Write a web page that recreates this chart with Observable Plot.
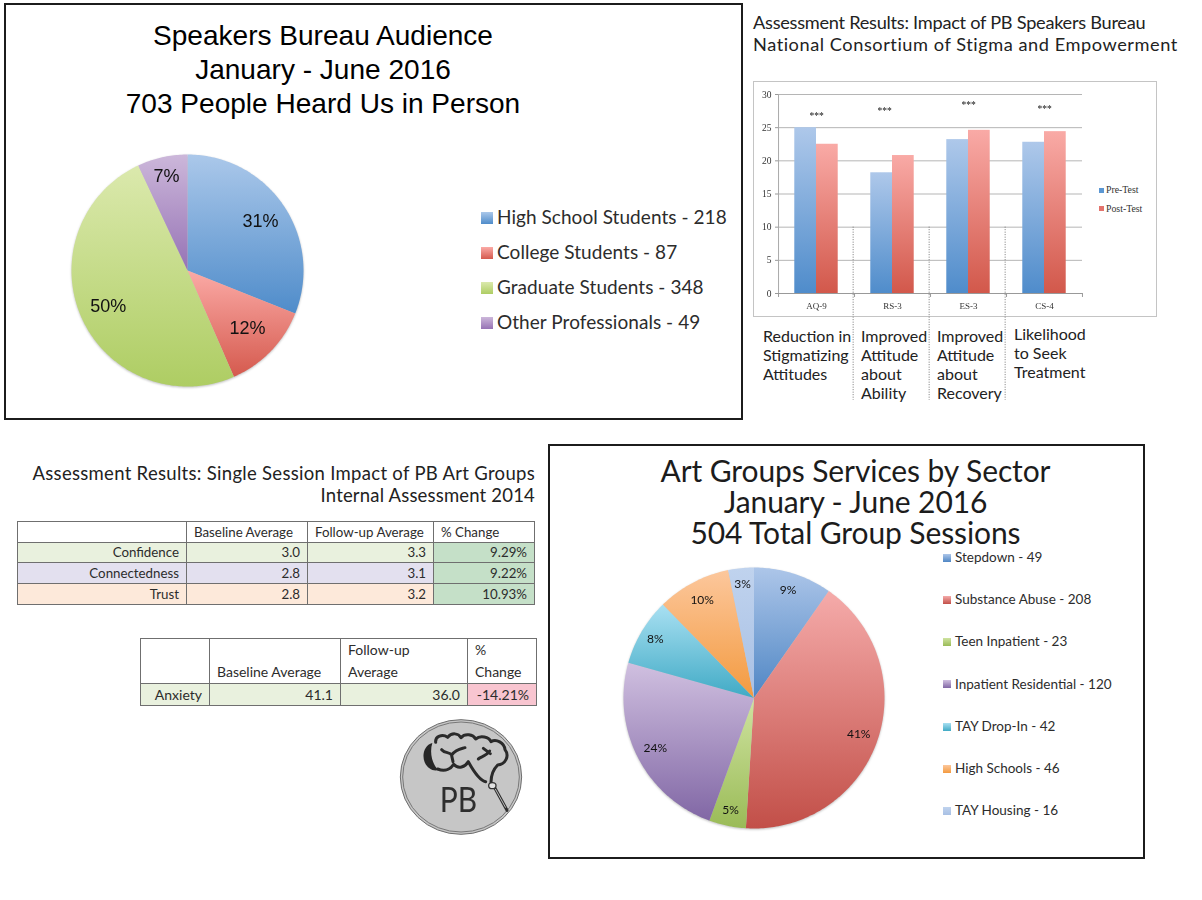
<!DOCTYPE html>
<html><head><meta charset="utf-8">
<script src="https://cdn.jsdelivr.net/npm/d3@7"></script>
<script src="https://cdn.jsdelivr.net/npm/@observablehq/plot@0.6"></script>
<style>
html,body{margin:0;padding:0;background:#fff}
#page{position:relative;width:1202px;height:900px;overflow:hidden;background:#fff}
.abs{position:absolute;white-space:pre}
.box{position:absolute;box-sizing:border-box;border:2px solid #1c1c1c}
.plot{position:absolute}
.plot svg{overflow:visible}
.sw{position:absolute}
table{position:absolute;border-collapse:collapse;table-layout:fixed;font-family:Lato,sans-serif;color:#2c2c2c}
td{border:1px solid #6f6f6f;padding:0 7px;box-sizing:border-box;white-space:nowrap}
</style></head><body><div id="page"></div>
<script>
// ---------- data ----------
const audienceNames = ["High School Students","College Students","Graduate Students","Other Professionals"];
const audienceCounts = [218,87,348,49];
const audienceLabels = ["31%","12%","50%","7%"];
const sectorNames = ["Stepdown","Substance Abuse","Teen Inpatient","Inpatient Residential","TAY Drop-In","High Schools","TAY Housing"];
const sectorCounts = [49,208,23,120,42,46,16];
const sectorLabels = ["9%","41%","5%","24%","8%","10%","3%"];
const measures = ["AQ-9","RS-3","ES-3","CS-4"];
const preTest = [25,18.2,23.2,22.8];
const postTest = [22.5,20.8,24.6,24.4];
const stars = [27,27.7,28.6,28];
const measureNotes = ["Reduction in\nStigmatizing\nAttitudes","Improved\nAttitude\nabout\nAbility","Improved\nAttitude\nabout\nRecovery","Likelihood\nto Seek\nTreatment"];
const tableHead = ["","Baseline Average","Follow-up Average","% Change"];
const tableRows = [["Confidence","3.0","3.3","9.29%"],["Connectedness","2.8","3.1","9.22%"],["Trust","2.8","3.2","10.93%"]];
const anxietyHead = ["","Baseline Average","Follow-up\nAverage","%\nChange"];
const anxietyRow = ["Anxiety","41.1","36.0","-14.21%"];

// ---------- styling ----------
const audienceGrad = [["#abc8ea","#4f8cca"],["#fbaaa6","#d55a4e"],["#dbe9ad","#aecd63"],["#ccb7da","#9673b5"]];
const sectorGrad = [["#adc6e9","#4f86c4"],["#f5abaa","#c24f48"],["#cfe3a0","#9abb57"],["#d0c0e0","#8167a5"],["#a9e0f2","#40aac5"],["#fcc79c","#f39a3f"],["#c0d3ee","#a8c0e4"]];
const FUT = "Lato, sans-serif";
const page = document.getElementById("page");

function put(html, css){const d=document.createElement("div");d.className="abs";d.textContent=html;Object.assign(d.style,css);page.appendChild(d);return d;}
function box(l,t,r,b){const d=document.createElement("div");d.className="box";Object.assign(d.style,{left:l+"px",top:t+"px",width:(r-l)+"px",height:(b-t)+"px"});page.appendChild(d);}
function gradDefs(id,pairs){return ()=>{const defs=d3.create("svg:defs");pairs.forEach((p,i)=>{const g=defs.append("linearGradient").attr("id",id+i).attr("x1",0).attr("x2",0).attr("y1",0).attr("y2",1);g.append("stop").attr("offset",0).attr("stop-color",p[0]);g.append("stop").attr("offset",1).attr("stop-color",p[1]);});return defs.node();};}

function pie(id,counts,labels,grads,cx,cy,radius,labelR,font,fontSize){
  const arcs=d3.pie().sort(null)(counts);
  const slices=arcs.map(a=>{const n=Math.max(2,Math.ceil((a.endAngle-a.startAngle)*60));
    const pts=[[0,0]];for(let k=0;k<=n;k++){const t=a.startAngle+(a.endAngle-a.startAngle)*k/n;pts.push([Math.sin(t),Math.cos(t)]);}pts.push([0,0]);return pts;});
  const marks=[gradDefs(id,grads)];
  slices.forEach((s,i)=>marks.push(Plot.line(s,{x:d=>d[0],y:d=>d[1],fill:`url(#${id}${i})`,stroke:"none"})));
  const tags=arcs.map((a,i)=>{const m=(a.startAngle+a.endAngle)/2,r=labelR[i];return {x:r*Math.sin(m),y:r*Math.cos(m),t:labels[i]};});
  marks.push(Plot.text(tags,{x:"x",y:"y",text:"t",fontSize,fontFamily:font,fill:"#111"}));
  const pad=3;
  const p=Plot.plot({width:2*radius+2*pad,height:2*radius+2*pad,margin:pad,
    x:{domain:[-1,1],axis:null},y:{domain:[-1,1],axis:null},
    style:{background:"transparent",filter:"drop-shadow(0 1px 1px rgba(0,0,0,.25))"},marks});
  const w=document.createElement("div");w.className="plot";w.style.left=(cx-radius-pad)+"px";w.style.top=(cy-radius-pad)+"px";w.appendChild(p);page.appendChild(w);
}
function legend(names,counts,grads,x,y0,step,sw,tx,fontSize,spacing){
  names.forEach((n,i)=>{const y=y0+step*i;
    const s=document.createElement("div");s.className="sw";Object.assign(s.style,{left:x+"px",top:(y-sw/2)+"px",width:sw+"px",height:sw+"px",background:`linear-gradient(${grads[i][0]},${grads[i][1]})`});page.appendChild(s);
    put(`${n} - ${counts[i]}`,{left:tx+"px",top:(y-fontSize*0.65)+"px",fontFamily:"Lato, sans-serif",fontSize:fontSize+"px",lineHeight:(fontSize*1.3)+"px",letterSpacing:spacing+"px",color:"#2c2c2c"});
  });
}

// ---------- top-left panel ----------
box(4,3,743,420);
put("Speakers Bureau Audience\nJanuary - June 2016\n703 People Heard Us in Person",{left:"4px",width:"638px",top:"19px",textAlign:"center",fontFamily:"'Liberation Sans',sans-serif",fontSize:"28.05px",lineHeight:"34px",color:"#000"});
pie("a",audienceCounts,audienceLabels,audienceGrad,187,270,116,[0.76,0.72,0.75,0.83],"'Liberation Sans',sans-serif",18);
legend(audienceNames,audienceCounts,audienceGrad,481,217.5,35,12,497,19,0.05);

// ---------- top-right bar chart ----------
const headCss={fontFamily:FUT,fontSize:"18.2px",lineHeight:"22px",color:"#222"};
put("Assessment Results: Impact of PB Speakers Bureau",{...headCss,left:"753px",top:"11px",letterSpacing:"-0.27px"});
put("National Consortium of Stigma and Empowerment",{...headCss,left:"753px",top:"33px",letterSpacing:"0.55px"});
const panel=document.createElement("div");panel.style.cssText="position:absolute;left:753px;top:81px;width:404px;height:236px;box-sizing:border-box;border:1px solid #c4c4c4";page.appendChild(panel);
const bars=measures.flatMap((m,i)=>[{m,s:"Pre-Test",v:preTest[i]},{m,s:"Post-Test",v:postTest[i]}]);
const SER=["Pre-Test","Post-Test"];
const starRows=measures.map((m,i)=>({m,v:stars[i]}));
const sepRows=[{m:"RS-3",to:-16.1},{m:"ES-3",to:-16.1},{m:"CS-4",to:-16.1}];
const serif="'Liberation Serif',serif";
const chart=Plot.plot({width:404,height:320,marginLeft:25,marginRight:75,marginTop:12,marginBottom:109,
  fx:{domain:measures,padding:0,round:false,label:null},
  x:{domain:SER,paddingInner:0,paddingOuter:0.75,round:false,axis:null},
  y:{domain:[0,30],label:null,axis:null},
  style:{background:"transparent",color:"#333",filter:"blur(0.3px)"},
  marks:[
    gradDefs("b",[["#aec8ea","#4f8ccb"],["#f9aaa6","#d2584b"]]),
    Plot.axisFx({anchor:"bottom",tickSize:0,tickPadding:9,fontFamily:serif,fontSize:9,label:null}),
    Plot.axisY({anchor:"left",ticks:d3.range(0,31,5),tickSize:3,tickPadding:4,fontFamily:serif,fontSize:9.5,label:null,stroke:"#999",fx:"AQ-9"}),
    Plot.ruleY(d3.range(5,31,5),{stroke:"#b5b5b5",strokeWidth:1}),
    Plot.ruleX([{m:"AQ-9"}],{fx:"m",x:()=>"Pre-Test",dx:-27.1,y1:0,y2:30,stroke:"#aaa"}),
    Plot.barY(bars.filter(d=>d.s==="Pre-Test"),{fx:"m",x:"s",y:"v",fill:"url(#b0)"}),
    Plot.barY(bars.filter(d=>d.s==="Post-Test"),{fx:"m",x:"s",y:"v",fill:"url(#b1)"}),
    Plot.ruleY([0],{stroke:"#999"}),
    Plot.ruleX(measures.map(m=>({m})),{fx:"m",x:()=>"Pre-Test",dx:-27.1,y1:0,y2:-0.6,stroke:"#999"}),
    Plot.ruleX([{m:"CS-4"}],{fx:"m",x:()=>"Post-Test",dx:27.1,y1:0,y2:-0.6,stroke:"#999"}),
    Plot.ruleX(sepRows,{fx:"m",x:()=>"Pre-Test",dx:-28.5,y1:10,y2:"to",stroke:"#777",strokeDasharray:"1 1.5",strokeWidth:1}),
    Plot.text(starRows.filter(d=>d.m!=="RS-3"),{fx:"m",x:()=>"Pre-Test",dx:10.9,dy:1.5,y:"v",text:()=>"***",fontFamily:serif,fontSize:9.5,fill:"#111"}),
    Plot.text(starRows.filter(d=>d.m==="RS-3"),{fx:"m",x:()=>"Pre-Test",dx:3,dy:1.5,y:"v",text:()=>"***",fontFamily:serif,fontSize:9.5,fill:"#111"})
  ]});
const cw=document.createElement("div");cw.className="plot";cw.style.left="753px";cw.style.top="82px";cw.appendChild(chart);page.appendChild(cw);
// chart legend
SER.forEach((s,i)=>{const y=190+18.5*i;
  const sq=document.createElement("div");sq.className="sw";Object.assign(sq.style,{left:"1099px",top:(y-2.5)+"px",width:"5px",height:"5px",background:i?"#e3736c":"#5b97d3"});page.appendChild(sq);
  put(s,{left:"1106px",top:(y-6)+"px",fontFamily:serif,fontSize:"9.8px",lineHeight:"12px",color:"#333"});});
// notes under bars
[[763,335.5],[861,335.5],[937,335.5],[1014,333.5]].forEach((p,i)=>put(measureNotes[i],{left:p[0]+"px",top:(p[1]-9.5)+"px",fontFamily:FUT,fontSize:"16px",lineHeight:"19px",color:"#222"}));

// ---------- tables ----------
const headCss2={fontFamily:FUT,fontSize:"18.5px",lineHeight:"22px",color:"#222",textAlign:"right",right:(1202-535)+"px"};
put("Assessment Results: Single Session Impact of PB Art Groups",{...headCss2,top:"462px",letterSpacing:"0.3px"});
put("Internal Assessment 2014",{...headCss2,top:"484px",letterSpacing:"0.18px"});
function table(cols,left,top,rows){
  const t=document.createElement("table");t.style.left=left+"px";t.style.top=top+"px";t.style.width=d3.sum(cols)+"px";
  const cg=document.createElement("colgroup");cols.forEach(c=>{const e=document.createElement("col");e.style.width=c+"px";cg.appendChild(e);});t.appendChild(cg);
  rows.forEach(r=>{const tr=document.createElement("tr");tr.style.height=r.h+"px";
    r.cells.forEach((c,i)=>{const td=document.createElement("td");td.textContent=c;td.style.whiteSpace="pre";td.style.fontSize=r.fs+"px";td.style.textAlign=r.align;td.style.verticalAlign=r.valign||"middle";td.style.lineHeight=r.lh?r.lh+"px":"normal";td.style.background=(r.bg&&r.bg[i])||"#fff";tr.appendChild(td);});t.appendChild(tr);});
  page.appendChild(t);
}
const rowBg=["#e9f1de","#e3e0ef","#fde9da"];
table([169,121,126,101],17,520.5,[{h:21,fs:13.3,align:"left",cells:tableHead},...tableRows.map((r,i)=>({h:20.7,fs:13.3,align:"right",cells:r,bg:[rowBg[i],rowBg[i],rowBg[i],"#c5e0c8"]}))]);
table([69,131,127,69],140,637.5,[{h:45,fs:14,align:"left",valign:"bottom",lh:22,cells:anxietyHead},{h:22,fs:14,align:"right",cells:anxietyRow,bg:["#e9f1de","#e9f1de","#e9f1de","#f8c5d0"]}]);

// ---------- logo ----------
const logo=document.createElementNS("http://www.w3.org/2000/svg","svg");
logo.setAttribute("viewBox","0 0 390 390");logo.setAttribute("width",130);logo.setAttribute("height",130);logo.style.cssText="position:absolute;left:397px;top:712px;filter:blur(0.3px)";
logo.innerHTML=`<ellipse cx="192" cy="195" rx="182" ry="172" fill="#c6c6c6" stroke="#6d6d6d" stroke-width="3"/>
<ellipse cx="192" cy="195" rx="175" ry="165" fill="none" stroke="#777" stroke-width="3"/>
<g transform="translate(54,39)">
<g fill="none" stroke="#2a2a2a" stroke-width="9" stroke-linecap="round" stroke-linejoin="round">
<path d="M62 52 C60 34 82 26 98 37 C110 22 130 24 138 38 C150 24 174 28 182 42 C196 30 222 36 228 50 C244 40 268 54 270 74 C284 92 272 118 248 120 C236 132 228 150 228 172"/>
<path d="M68 132 C92 142 108 130 116 118 C130 134 150 126 160 110 C170 128 190 165 212 170"/>
<path d="M80 74 C90 86 104 80 110 90 C124 72 136 72 150 68 M110 92 L114 110 M205 70 L226 86 M224 78 C212 96 196 94 190 102"/>
</g>
<path d="M52 54 C28 60 20 90 29 112 C38 132 56 140 70 135 C54 120 42 86 52 54Z" fill="#262626"/>
<path d="M240 190 L276 256" stroke="#2e2e2e" stroke-width="9" fill="none" stroke-linecap="round"/>
<path d="M241 192 L272 248" stroke="#bdbdbd" stroke-width="3" fill="none"/>
<ellipse cx="232" cy="182" rx="11" ry="9" fill="#e2e2e2" stroke="#333" stroke-width="4"/>
<text x="74" y="262" font-family="Lato, sans-serif" font-weight="400" font-size="106" fill="#2e2e2e" textLength="112" lengthAdjust="spacingAndGlyphs">PB</text>
</g>`;
page.appendChild(logo);

// ---------- bottom-right panel ----------
box(548,444,1145,859);
put("Art Groups Services by Sector\nJanuary - June 2016\n504 Total Group Sessions",{left:"548px",width:"615px",top:"455px",textAlign:"center",fontFamily:FUT,fontSize:"30px",lineHeight:"31px",letterSpacing:"-0.1px",color:"#1c1c1c"});
pie("s",sectorCounts,sectorLabels,sectorGrad,753,697,130.5,[0.87,0.85,0.88,0.85,0.88,0.85,0.88],"Lato, sans-serif",12);
legend(sectorNames,sectorCounts,sectorGrad,943,557.8,42.2,8,955,13.5,0);
</script></body></html>
